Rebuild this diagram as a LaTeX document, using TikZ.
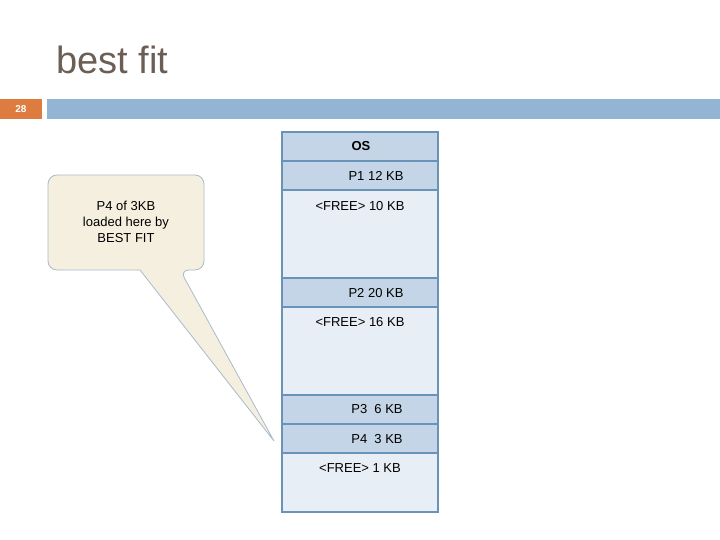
\documentclass[tikz,border=0pt]{standalone}
\usepackage{fontspec}
\setmainfont{Liberation Sans}
\begin{document}
\begin{tikzpicture}[x=1pt,y=-1pt,
  blk/.style={draw=blk,line width=1.2pt},
  used/.style={blk,fill=usedc},
  free/.style={blk,fill=freec},
  lbl/.style={font=\fontsize{13}{15}\selectfont,inner sep=0pt}]
\definecolor{blk}{HTML}{6A93B8}
\definecolor{usedc}{HTML}{C3D5E6}
\definecolor{freec}{HTML}{E8EEF5}
\definecolor{bar}{HTML}{93B5D3}
\definecolor{org}{HTML}{DE7B3E}
\definecolor{callf}{HTML}{F5EFDF}
\definecolor{callb}{HTML}{A9BBCB}
\definecolor{titlec}{HTML}{6B5E55}
\useasboundingbox (0,0) rectangle (720,540);
\fill[org] (0,99) rectangle (42,119);
\node[font=\bfseries\fontsize{10}{12}\selectfont,text=white] (num) at (21,109) {28};
\fill[bar] (47,99) rectangle (720,119);
\node[anchor=base west,font=\fontsize{38}{44}\selectfont,text=titlec,inner sep=0pt] (title) at (56,74) {best fit};
% memory
\draw[used] (282,132) rectangle (438,161);
\draw[used] (282,161) rectangle (438,190);
\draw[free] (282,190) rectangle (438,278);
\draw[used] (282,278) rectangle (438,307);
\draw[free] (282,307) rectangle (438,395);
\draw[used] (282,395) rectangle (438,424);
\draw[used] (282,424) rectangle (438,453);
\draw[free] (282,453) rectangle (438,512);
\node[lbl,font=\bfseries\fontsize{13}{15}\selectfont] (os) at (361,146) {OS};
\node[lbl] (p1) at (376,176) {P1 12 KB};
\node[lbl] (f1) at (360,206) {<FREE> 10 KB};
\node[lbl] (p2) at (376,293) {P2 20 KB};
\node[lbl] (f2) at (360,322) {<FREE> 16 KB};
\node[lbl] (p3) at (377,409) {P3\ \ 6 KB};
\node[lbl] (p4) at (377,439) {P4\ \ 3 KB};
\node[lbl] (f3) at (360,468) {<FREE> 1 KB};
% callout
\coordinate (tip) at (274,441);
\draw[draw=callb,fill=callf,line width=0.8pt,rounded corners=9pt]
  (48,175) -- (204,175) -- (204,270) -- (180,270) [sharp corners]-- (tip) -- (140,270) [rounded corners=9pt] -- (48,270) -- cycle;
\node[font=\fontsize{13}{16}\selectfont,align=center] (call) at (126,222) {P4 of 3KB\\loaded here by\\BEST FIT};
\end{tikzpicture}
\end{document}
